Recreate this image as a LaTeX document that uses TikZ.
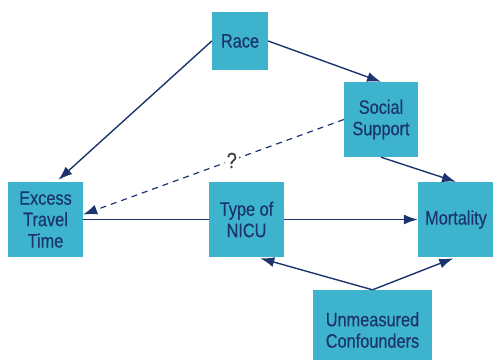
\documentclass[tikz,border=0pt]{standalone}
\usepackage{fontspec}
\setmainfont{Liberation Sans}[FakeStretch=0.84,FakeBold=0.4]
\usetikzlibrary{arrows.meta,backgrounds}
\definecolor{boxfill}{RGB}{62,179,205}
\definecolor{navy}{RGB}{28,52,110}
\begin{document}
\begin{tikzpicture}[x=1bp,y=-1bp,
        var/.style = {rectangle,
            fill=boxfill,
            inner sep=0pt,
            align=center,
            text=navy,
            font=\fontsize{19.5}{21.5}\selectfont
        },
        query/.style = {fill=white,
            inner sep=2pt,
            text=black!75,
            font=\fontsize{22}{22}\selectfont
        },
        link/.style = {draw=navy,
            line width=1.4pt,
            -{Latex[length=14pt,width=10pt]}
        }]

    \useasboundingbox (0,0) rectangle (493,359);

    % Race
    \node [var, minimum width=56bp, minimum height=58bp] (race) at (240,41) {Race};

    % Social support
    \node [var, minimum width=74bp, minimum height=75bp] (social) at (381,119.5) {Social\\Support};

    % Middle row
    \node [var, minimum width=75bp, minimum height=75bp] (travel) at (45.5,219.5) {Excess\\Travel\\Time};
    \node [var, minimum width=75bp, minimum height=75bp] (nicu) at (246.5,219.5) {Type of\\NICU};
    \node [var, minimum width=76bp, minimum height=75bp] (mortality) at (456,219.5) {Mortality};

    % Unmeasured confounders
    \node [var, minimum width=119bp, minimum height=80bp] (unmeasured) at (372.5,330) {Unmeasured\\Confounders};

    % Arrows
    \begin{scope}[on background layer]
        \draw [link] (travel.east) -- (mortality.west);
    \end{scope}
    \draw [link] (race.west) -- ([xshift=13bp,yshift=2bp]travel.north);
    \draw [link] (race.east) -- (social.north);
    \draw [link] (social.south) -- (mortality.north);
    \draw [link, dash pattern=on 6bp off 5bp, line width=1.2pt] (social.west) -- node [query, pos=0.43] {?} ([yshift=5bp]travel.east);
    \draw [link, shorten >=4bp] (unmeasured.north) -- ([xshift=10bp]nicu.south);
    \draw [link, shorten >=3bp] (unmeasured.north) -- (mortality.south);

\end{tikzpicture}
\end{document}
